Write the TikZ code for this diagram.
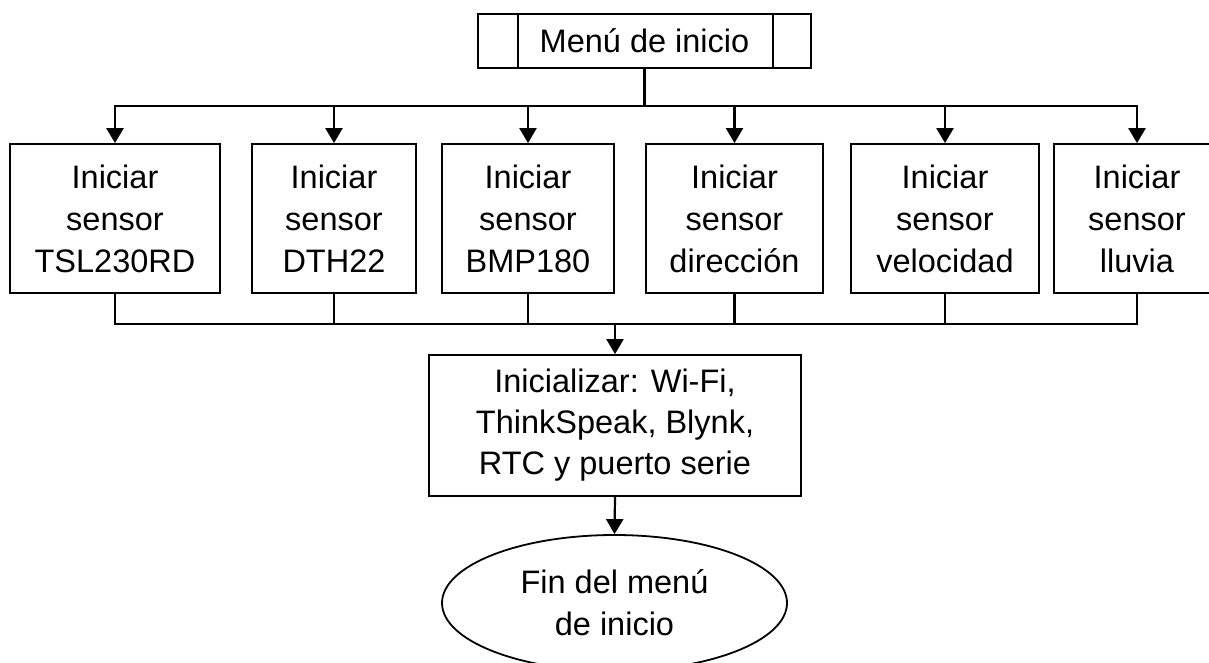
\documentclass[tikz,border=0pt]{standalone}
\usepackage{fontspec}
\setmainfont{Liberation Sans}
\usetikzlibrary{arrows.meta,shapes.geometric}

\tikzset{
  txt/.style={font=\fontsize{32.5}{42}\selectfont, align=center, inner sep=0pt, text=black},
  procbox/.style={txt, draw=black, line width=1.8pt, rectangle},
  conn/.style={draw=black, line width=2.2pt},
  tip/.tip={Triangle[width=17pt,length=15pt]},
  arr/.style={conn, -tip},
  twoarr/.style={conn, tip-tip},
}

\begin{document}
\begin{tikzpicture}[x=1pt, y=-1pt]
  \path[use as bounding box, clip] (0,0) rectangle (1209,663);

  % predefined-process start block
  \node[procbox, minimum width=333pt, minimum height=54pt] (menu) at (644.5,41) {Menú de inicio};
  \draw[line width=1.8pt] ([xshift=41pt]menu.north west) -- ([xshift=41pt]menu.south west);
  \draw[line width=1.8pt] ([xshift=-39pt]menu.north east) -- ([xshift=-39pt]menu.south east);

  % bus levels
  \coordinate (topbus) at (0,106);
  \coordinate (botbus) at (0,324);

  % sensor initialisation blocks
  \node[procbox, minimum width=210pt, minimum height=149pt] (s1) at (115,218.5) {Iniciar\\sensor\\TSL230RD};
  \node[procbox, minimum width=164pt, minimum height=149pt] (s2) at (334,218.5) {Iniciar\\sensor\\DTH22};
  \node[procbox, minimum width=172pt, minimum height=149pt] (s3) at (528,218.5) {Iniciar\\sensor\\BMP180};
  \node[procbox, minimum width=177pt, minimum height=149pt] (s4) at (734.5,218.5) {Iniciar\\sensor\\dirección};
  \node[procbox, minimum width=188pt, minimum height=149pt] (s5) at (945,218.5) {Iniciar\\sensor\\velocidad};
  \node[procbox, minimum width=166pt, minimum height=149pt] (s6) at (1137,218.5) {Iniciar\\sensor\\lluvia};

  % network and peripherals block
  \node[procbox, font=\fontsize{32.5}{41}\selectfont, minimum width=372pt, minimum height=141pt] (init) at (615,425.5)
    {Inicializar: Wi-Fi,\\ThinkSpeak, Blynk,\\RTC y puerto serie};

  % terminal
  \node[txt, ellipse, draw=black, line width=1.8pt, minimum width=345pt, minimum height=136pt] (fin) at (614.5,603)
    {Fin del menú\\de inicio};

  % fan-out from the start block
  \draw[conn] (menu.south) -- (menu.south |- topbus);
  \draw[twoarr, line width=2.6pt] (s1.north) |- (topbus -| s6.north) -- (s6.north);
  \foreach \n in {s2,s3,s4,s5}
    \draw[arr] (\n.north |- topbus) -- (\n.north);

  % fan-in to the initialisation block
  \draw[conn, line width=2.6pt] (s1.south) |- (botbus -| s6.south) -- (s6.south);
  \foreach \n in {s2,s3,s4,s5}
    \draw[conn] (\n.south) -- (\n.south |- botbus);
  \draw[arr] (init.north |- botbus) -- (init.north);

  \draw[arr] (init.south) -- (fin.north);
\end{tikzpicture}
\end{document}
